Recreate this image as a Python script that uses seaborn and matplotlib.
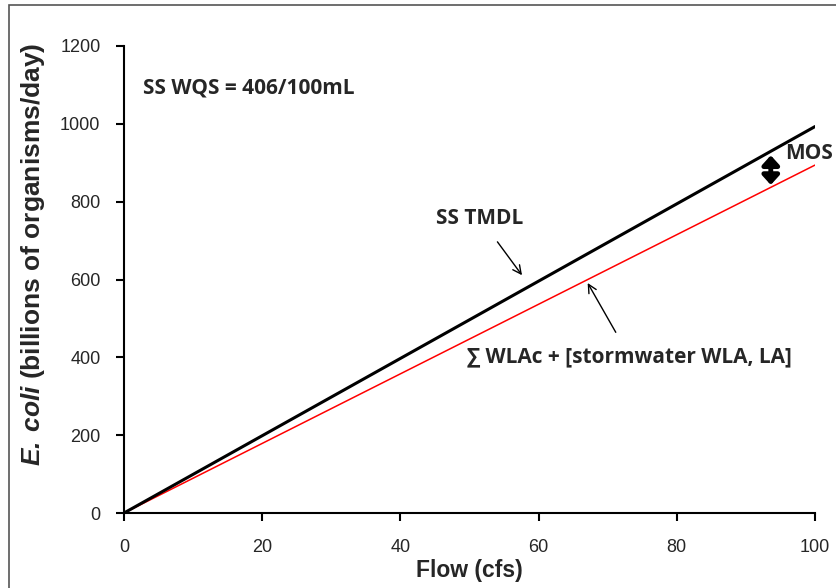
import matplotlib
matplotlib.use("Agg")
import matplotlib.pyplot as plt
import seaborn as sns
import pandas as pd
from matplotlib.patches import Rectangle

# data: load duration lines (flow in cfs, billions of organisms/day)
flow = [0, 100]
ss_tmdl = [0, 993]
wla_la = [0, 894]
x_ticks = [0, 20, 40, 60, 80, 100]
y_ticks = [0, 200, 400, 600, 800, 1000, 1200]

sns.set_style("ticks")
plt.rcParams['font.family'] = ['Liberation Sans', 'DejaVu Sans']
plt.rcParams['mathtext.fontset'] = 'custom'
plt.rcParams['mathtext.bfit'] = 'Liberation Sans:italic:bold'
plt.rcParams['mathtext.rm'] = 'Liberation Sans:bold'

df = pd.DataFrame({'flow': flow, 'tmdl': ss_tmdl, 'wla': wla_la})

fig = plt.figure(figsize=(8.36, 5.88), dpi=100)
ax = fig.add_axes([124 / 836, 1 - 513 / 588, (815 - 124) / 836, (513 - 46) / 588])

sns.lineplot(data=df, x='flow', y='wla', ax=ax, color='red', linewidth=1.1)
sns.lineplot(data=df, x='flow', y='tmdl', ax=ax, color='black', linewidth=2.2)

ax.set_xlim(0, 100)
ax.set_ylim(0, 1200)
ax.set_xticks(x_ticks)
ax.set_yticks(y_ticks)
ax.tick_params(axis='both', labelsize=13, length=6, width=1.5, color='black')
ax.tick_params(axis='x', pad=13)
ax.tick_params(axis='y', pad=11)
for s in ['left', 'bottom']:
    ax.spines[s].set_linewidth(1.5)
    ax.spines[s].set_color('black')
sns.despine(ax=ax)

ax.set_xlabel('Flow (cfs)', fontsize=16.5, fontweight='bold')
ax.xaxis.set_label_coords(0.5, -0.098)
ax.set_ylabel(r'$\mathbfit{E.\,coli}$ (billions of organisms/day)',
              fontsize=19, fontweight='bold')
ax.yaxis.set_label_coords(-0.111, 0.555)

# annotations
font_lbl = dict(family=['Open Sans', 'DejaVu Sans'], fontsize=15, fontweight='bold')
ax.text(2.75, 1092, 'SS WQS = 406/100mL', ha='left', va='center', **font_lbl)
ax.annotate('SS TMDL', xy=(57.6, 611), xytext=(51.5, 758), ha='center', va='center',
            arrowprops=dict(arrowstyle='->', color='black', lw=1,
                            shrinkA=9, shrinkB=0), **font_lbl)
ax.annotate('∑ WLAc + [stormwater WLA, LA]', xy=(67.1, 591), xytext=(73.2, 401),
            ha='center', va='center',
            arrowprops=dict(arrowstyle='->', color='black', lw=1,
                            shrinkA=9, shrinkB=0), **font_lbl)
# MOS sits at the right edge; keep it just inside the figure
ax.text(102.6, 925, 'MOS', ha='right', va='center', clip_on=False, **font_lbl)
ax.annotate('', xy=(93.6, 919), xytext=(93.6, 843),
            arrowprops=dict(arrowstyle='<|-|>,head_length=0.55,head_width=0.5',
                            color='black', lw=3.5, shrinkA=0, shrinkB=0))

# outer frame of the figure
fig.patches.append(Rectangle((9 / 836, -0.05), 1.2, 1 - 5 / 588 + 0.05,
                             transform=fig.transFigure, fill=False,
                             edgecolor='#555555', linewidth=1.2))

fig.savefig('out.png', dpi=100)
